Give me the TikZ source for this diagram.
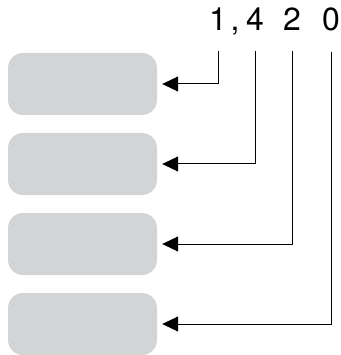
\documentclass[tikz,border=0pt]{standalone}
\usepackage{fontspec}
\setmainfont{TeX Gyre Heros}
\usetikzlibrary{arrows.meta}
\definecolor{boxgray}{RGB}{211,212,214}

\begin{document}
\begin{tikzpicture}[x=1pt, y=-1pt,
        place/.style={fill=boxgray, rounded corners=15pt, minimum width=149pt, minimum height=62pt, inner sep=0pt},
        digit/.style={inner sep=0pt, anchor=base, font=\fontsize{32}{32}\selectfont},
        feed/.style={line width=1pt, -{Triangle[length=16pt, width=15pt]}, shorten <=20pt, shorten >=5pt}]
        \useasboundingbox (0,0) rectangle (340,355);
        % the number
        \node[digit] (d1) at (218,31) {1};
        \node[digit] (comma) at (235,31) {,};
        \node[digit] (d4) at (255,31) {4};
        \node[digit] (d2) at (292,31) {2};
        \node[digit] (d0) at (331,31) {0};
        % the places
        \node[place] (b1) at (82.5,84) {};
        \node[place] (b2) at (82.5,164) {};
        \node[place] (b3) at (82.5,244) {};
        \node[place] (b4) at (82.5,324) {};
        \draw[feed] (d1.south) |- (b1.east);
        \draw[feed] (d4.south) |- (b2.east);
        \draw[feed] (d2.south) |- (b3.east);
        \draw[feed] (d0.south) |- (b4.east);
    \end{tikzpicture}
\end{document}
